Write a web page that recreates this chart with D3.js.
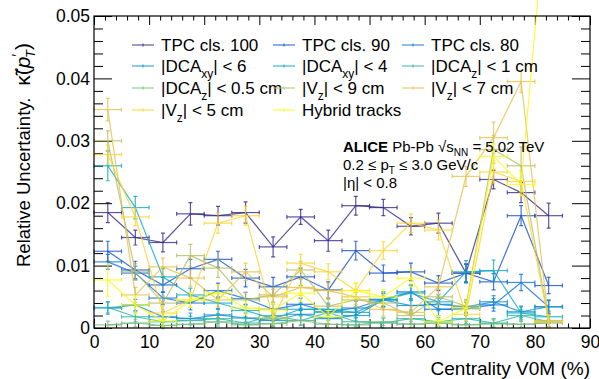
<!DOCTYPE html>
<html>
<head>
<meta charset="utf-8">
<script src="https://cdn.jsdelivr.net/npm/d3@7"></script>
<style>
  body { margin: 0; background: #fff; }
  text { font-family: "Liberation Sans", Arial, sans-serif; }
</style>
</head>
<body>
<svg id="chart" width="599" height="379"></svg>
<script>
// centrality bins (V0M, %)
const centLow = [0, 5, 10, 15, 20, 25, 30, 35, 40, 45, 50, 55, 60, 65, 70, 75, 80];
const centHigh = [5, 10, 15, 20, 25, 30, 35, 40, 45, 50, 55, 60, 65, 70, 75, 80, 85];

// relative uncertainty per variation
const tpc100 = [0.0185, 0.0145, 0.0137, 0.0183, 0.0180, 0.0185, 0.0130, 0.0178, 0.0140, 0.0196, 0.0193, 0.0163, 0.0168, 0.0088, 0.0238, 0.0217, 0.0180];
const tpc100Err = [0.0016, 0.0012, 0.0015, 0.0018, 0.0015, 0.0017, 0.0016, 0.0012, 0.0017, 0.0015, 0.0013, 0.0014, 0.0016, 0.0015, 0.0015, 0.0016, 0.0020];
const tpc90 = [0.0123, 0.0093, 0.0069, 0.0095, 0.0110, 0.0080, 0.0066, 0.0082, 0.0061, 0.0124, 0.0088, 0.0090, 0.0072, 0.0088, 0.0074, 0.0180, 0.0068];
const tpc90Err = [0.0016, 0.0014, 0.0012, 0.0015, 0.0013, 0.0014, 0.0015, 0.0014, 0.0013, 0.0015, 0.0013, 0.0014, 0.0012, 0.0014, 0.0013, 0.0016, 0.0013];
const tpc80 = [0.0106, 0.0088, 0.0048, 0.0040, 0.0060, 0.0047, 0.0030, 0.0038, 0.0026, 0.0032, 0.0046, 0.0058, 0.0030, 0.0031, 0.0037, 0.0073, 0.0034];
const tpc80Err = [0.0012, 0.0011, 0.0010, 0.0011, 0.0012, 0.0010, 0.0011, 0.0010, 0.0011, 0.0011, 0.0012, 0.0011, 0.0010, 0.0011, 0.0010, 0.0013, 0.0011];
const dcaxy6 = [0.0032, 0.0037, 0.0018, 0.0015, 0.0021, 0.0016, 0.0012, 0.0022, 0.0015, 0.0020, 0.0045, 0.0036, 0.0038, 0.0034, 0.0042, 0.0026, 0.0034];
const dcaxy6Err = [0.0010, 0.0009, 0.0008, 0.0009, 0.0010, 0.0008, 0.0009, 0.0010, 0.0008, 0.0009, 0.0010, 0.0009, 0.0010, 0.0009, 0.0010, 0.0009, 0.0010];
const dcaxy4 = [0.0260, 0.0193, 0.0082, 0.0053, 0.0040, 0.0028, 0.0015, 0.0030, 0.0030, 0.0025, 0.0045, 0.0056, 0.0042, 0.0090, 0.0092, 0.0024, 0.0018];
const dcaxy4Err = [0.0024, 0.0018, 0.0013, 0.0011, 0.0010, 0.0010, 0.0009, 0.0010, 0.0010, 0.0009, 0.0011, 0.0012, 0.0011, 0.0018, 0.0017, 0.0010, 0.0009];
const dcaz1 = [0.0033, 0.0018, 0.0010, 0.0012, 0.0015, 0.0008, 0.0020, 0.0012, 0.0025, 0.0010, 0.0008, 0.0015, 0.0010, 0.0015, 0.0008, 0.0020, 0.0010];
const dcaz1Err = [0.0009, 0.0008, 0.0008, 0.0007, 0.0008, 0.0007, 0.0009, 0.0008, 0.0009, 0.0007, 0.0008, 0.0008, 0.0007, 0.0008, 0.0007, 0.0009, 0.0008];
const dcaz05 = [0.0005, 0.0008, 0.0004, 0.0006, 0.0010, 0.0005, 0.0007, 0.0012, 0.0006, 0.0005, 0.0010, 0.0006, 0.0008, 0.0005, 0.0007, 0.0006, 0.0008];
const dcaz05Err = [0.0006, 0.0006, 0.0005, 0.0006, 0.0007, 0.0005, 0.0006, 0.0007, 0.0006, 0.0005, 0.0006, 0.0005, 0.0006, 0.0005, 0.0006, 0.0005, 0.0006];
const vz9 = [0.0300, 0.0090, 0.0040, 0.0116, 0.0096, 0.0045, 0.0053, 0.0093, 0.0035, 0.0045, 0.0040, 0.0020, 0.0050, 0.0035, 0.0286, 0.0260, 0.0012];
const vz9Err = [0.0016, 0.0013, 0.0011, 0.0018, 0.0015, 0.0012, 0.0012, 0.0014, 0.0011, 0.0012, 0.0011, 0.0010, 0.0012, 0.0011, 0.0022, 0.0030, 0.0010];
const vz7 = [0.0350, 0.0053, 0.0098, 0.0080, 0.0045, 0.0090, 0.0050, 0.0065, 0.0060, 0.0050, 0.0030, 0.0025, 0.0066, 0.0243, 0.0305, 0.0395, 0.0010];
const vz7Err = [0.0018, 0.0012, 0.0014, 0.0013, 0.0011, 0.0014, 0.0012, 0.0013, 0.0012, 0.0012, 0.0011, 0.0010, 0.0012, 0.0016, 0.0025, 0.0018, 0.0010];
const vz5 = [0.0278, 0.0178, 0.0024, 0.0045, 0.0168, 0.0180, 0.0016, 0.0104, 0.0090, 0.0060, 0.0124, 0.0168, 0.0157, 0.0022, 0.0250, 0.0235, 0.0010];
const vz5Err = [0.0015, 0.0014, 0.0011, 0.0012, 0.0016, 0.0015, 0.0010, 0.0014, 0.0013, 0.0012, 0.0014, 0.0015, 0.0016, 0.0010, 0.0018, 0.0017, 0.0010];
const hybrid = [0.0077, 0.0037, 0.0011, 0.0045, 0.0056, 0.0032, 0.0029, 0.0056, 0.0018, 0.0060, 0.0050, 0.0080, 0.0010, 0.0032, 0.0275, 0.0230, 0.0720];
const hybridErr = [0.0026, 0.0014, 0.0010, 0.0012, 0.0013, 0.0011, 0.0011, 0.0013, 0.0010, 0.0012, 0.0012, 0.0014, 0.0010, 0.0011, 0.0020, 0.0018, 0.0020];

const seriesValues = [tpc100, tpc90, tpc80, dcaxy6, dcaxy4, dcaz1, dcaz05, vz9, vz7, vz5, hybrid];
const seriesErrors = [tpc100Err, tpc90Err, tpc80Err, dcaxy6Err, dcaxy4Err, dcaz1Err, dcaz05Err, vz9Err, vz7Err, vz5Err, hybridErr];
// legend labels split in [text, "sub"/""] pieces
const seriesLabels = [
  [['TPC cls. 100', '']],
  [['TPC cls. 90', '']],
  [['TPC cls. 80', '']],
  [['|DCA', ''], ['xy', 'sub'], ['| < 6', '']],
  [['|DCA', ''], ['xy', 'sub'], ['| < 4', '']],
  [['|DCA', ''], ['z', 'sub'], ['| < 1 cm', '']],
  [['|DCA', ''], ['z', 'sub'], ['| < 0.5 cm', '']],
  [['|V', ''], ['z', 'sub'], ['| < 9 cm', '']],
  [['|V', ''], ['z', 'sub'], ['| < 7 cm', '']],
  [['|V', ''], ['z', 'sub'], ['| < 5 cm', '']],
  [['Hybrid tracks', '']],
];
// ROOT kBird-like colours
const seriesColors = ['#352a87', '#1752cc', '#1272d9', '#0e8fd1', '#0ea8c2', '#2eb7a4', '#75bd80', '#b3bd65', '#e3c04a', '#fdd32b', '#f9fb0e'];

const xTicks = [0, 10, 20, 30, 40, 50, 60, 70, 80, 90];
const yTicks = [0, 0.01, 0.02, 0.03, 0.04, 0.05];

const svg = d3.select('#chart');
const frame = { left: 94, right: 590, top: 16, bottom: 328 };

const x = d3.scaleLinear().domain([0, 90]).range([frame.left, frame.right]);
const y = d3.scaleLinear().domain([0, 0.05]).range([frame.bottom, frame.top]);

const xMinor = d3.range(0, 91, 2).filter((d) => d % 10 !== 0);
const yMinor = d3.range(0, 51, 2).filter((d) => d % 10 !== 0).map((d) => d / 1000);

const fmtY = (d) => (d === 0 ? '0' : d3.format('.2f')(d));

function styleAxis(g) {
  g.select('.domain').remove();
  g.selectAll('line').attr('stroke', '#000').attr('stroke-width', 1);
  g.selectAll('text').attr('font-size', 17.5).attr('fill', '#000')
    .style('font-family', '"Liberation Sans", Arial, sans-serif');
}

// bottom axis with labels
svg.append('g').attr('transform', `translate(0,${frame.bottom})`)
  .call(d3.axisBottom(x).tickValues(xTicks).tickSize(-9).tickPadding(8).tickFormat(d3.format('d')))
  .call(styleAxis);
svg.append('g').attr('transform', `translate(0,${frame.bottom})`)
  .call(d3.axisBottom(x).tickValues(xMinor).tickSize(-4.5).tickFormat(''))
  .call(styleAxis);
// top axis ticks
svg.append('g').attr('transform', `translate(0,${frame.top})`)
  .call(d3.axisTop(x).tickValues(xTicks).tickSize(-9).tickFormat(''))
  .call(styleAxis);
svg.append('g').attr('transform', `translate(0,${frame.top})`)
  .call(d3.axisTop(x).tickValues(xMinor).tickSize(-4.5).tickFormat(''))
  .call(styleAxis);
// left axis with labels
svg.append('g').attr('transform', `translate(${frame.left},0)`)
  .call(d3.axisLeft(y).tickValues(yTicks).tickSize(-18).tickPadding(4).tickFormat(fmtY))
  .call(styleAxis);
svg.append('g').attr('transform', `translate(${frame.left},0)`)
  .call(d3.axisLeft(y).tickValues(yMinor).tickSize(-9).tickFormat(''))
  .call(styleAxis);
// right axis ticks
svg.append('g').attr('transform', `translate(${frame.right},0)`)
  .call(d3.axisRight(y).tickValues(yTicks).tickSize(-18).tickFormat(''))
  .call(styleAxis);
svg.append('g').attr('transform', `translate(${frame.right},0)`)
  .call(d3.axisRight(y).tickValues(yMinor).tickSize(-9).tickFormat(''))
  .call(styleAxis);

// series
const line = d3.line().x((d) => x(d.c)).y((d) => y(d.v));
const cap = 2;

seriesValues.forEach((vals, s) => {
  const pts = vals.map((v, i) => ({
    c: (centLow[i] + centHigh[i]) / 2, lo: centLow[i], hi: centHigh[i], v, e: seriesErrors[s][i],
  }));
  const g = svg.append('g')
    .attr('stroke', seriesColors[s])
    .attr('stroke-opacity', 0.8)
    .attr('stroke-width', 1.2)
    .attr('fill', 'none');

  g.append('path').attr('d', line(pts));

  const eb = g.selectAll('.eb').data(pts).join('g').attr('class', 'eb');
  eb.append('line')
    .attr('x1', (d) => x(d.lo)).attr('x2', (d) => x(d.hi))
    .attr('y1', (d) => y(d.v)).attr('y2', (d) => y(d.v));
  eb.append('line')
    .attr('x1', (d) => x(d.c)).attr('x2', (d) => x(d.c))
    .attr('y1', (d) => y(d.v - d.e)).attr('y2', (d) => y(d.v + d.e));
  // caps
  eb.append('path')
    .attr('d', (d) => {
      const yy = y(d.v);
      const xc = x(d.c);
      return `M${x(d.lo)},${yy - cap}V${yy + cap}M${x(d.hi)},${yy - cap}V${yy + cap}`
        + `M${xc - cap},${y(d.v - d.e)}H${xc + cap}M${xc - cap},${y(d.v + d.e)}H${xc + cap}`;
    });
});

// frame
svg.append('rect')
  .attr('x', frame.left).attr('y', frame.top)
  .attr('width', frame.right - frame.left).attr('height', frame.bottom - frame.top)
  .attr('fill', 'none').attr('stroke', '#000').attr('stroke-width', 1.2);

// legend
const legCols = [132, 273, 402];
const legRows = [45, 66, 88, 110];
seriesLabels.forEach((parts, i) => {
  const lx = legCols[i % 3];
  const ly = legRows[Math.floor(i / 3)];
  const g = svg.append('g');
  g.append('line')
    .attr('x1', lx).attr('x2', lx + 22).attr('y1', ly).attr('y2', ly)
    .attr('stroke', seriesColors[i]).attr('stroke-opacity', 0.8).attr('stroke-width', 1.2);
  g.append('line')
    .attr('x1', lx + 11).attr('x2', lx + 11).attr('y1', ly - 1.5).attr('y2', ly + 1.5)
    .attr('stroke', seriesColors[i]).attr('stroke-opacity', 0.8).attr('stroke-width', 1.2);
  const t = g.append('text').attr('x', lx + 29).attr('y', ly + 6).attr('font-size', 17);
  parts.forEach(([txt, kind]) => {
    if (kind === 'sub') {
      t.append('tspan').attr('dy', 6).attr('font-size', 12).text(txt);
    } else if (t.selectAll('tspan').size() > 0) {
      t.append('tspan').attr('dy', -6).text(txt);
    } else {
      t.append('tspan').text(txt);
    }
  });
});

// ALICE label
const info = svg.append('g').attr('font-size', 15);
const l1 = info.append('text').attr('x', 343).attr('y', 152);
l1.append('tspan').attr('font-weight', 'bold').text('ALICE');
l1.append('tspan').text(' Pb-Pb √');
l1.append('tspan').text('s');
l1.append('tspan').attr('dy', 4).attr('font-size', 10).text('NN');
l1.append('tspan').attr('dy', -4).text(' = 5.02 TeV');
const l2 = info.append('text').attr('x', 343).attr('y', 170);
l2.append('tspan').text('0.2 ≤ p');
l2.append('tspan').attr('dy', 4).attr('font-size', 10).text('T');
l2.append('tspan').attr('dy', -4).text(' ≤ 3.0 GeV/c');
info.append('text').attr('x', 343).attr('y', 188).text('|η| < 0.8');

// axis titles
svg.append('text')
  .attr('x', frame.right).attr('y', 375)
  .attr('text-anchor', 'end').attr('font-size', 19)
  .text('Centrality V0M (%)');

const yt = svg.append('text')
  .attr('transform', 'translate(30,267) rotate(-90)')
  .attr('font-size', 18.5);
yt.append('tspan').text('Relative Uncertainty.');
yt.append('tspan').attr('dx', 12).attr('font-size', 21).text('κ̃(');
yt.append('tspan').attr('font-style', 'italic').attr('font-size', 21).text('p');
yt.append('tspan').attr('dy', -8).attr('font-size', 14).text('′');
yt.append('tspan').attr('dy', 13).attr('dx', -4).attr('font-size', 13).attr('font-style', 'italic').text('T');
yt.append('tspan').attr('dy', -5).attr('font-size', 21).text(')');
</script>
</body>
</html>
